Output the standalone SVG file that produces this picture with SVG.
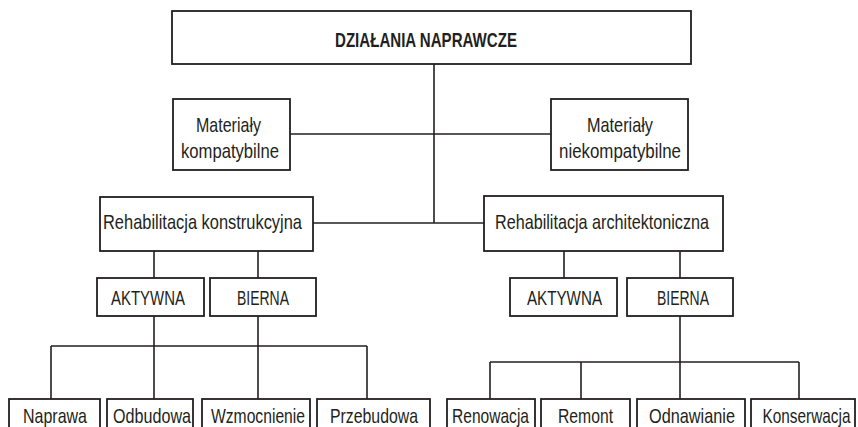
<svg xmlns="http://www.w3.org/2000/svg" width="858" height="427" viewBox="0 0 858 427">
<style>
rect{fill:#fff;stroke:#231f20;stroke-width:1.8}
text{font-family:"Liberation Sans Narrow","Liberation Sans",Arial,sans-serif;font-size:21px;fill:#231f20;text-anchor:middle}
.b{font-weight:bold;font-size:21px}
#connectors line{stroke:#231f20;stroke-width:1.6}
</style>
<rect x="0" y="0" width="858" height="427" style="fill:#fff;stroke:none"/>
<g id="connectors">
<line x1="434" y1="64" x2="434" y2="223"/>
<line x1="290" y1="134" x2="551" y2="134"/>
<line x1="313" y1="223" x2="484" y2="223"/>
<line x1="154" y1="251" x2="154" y2="278"/>
<line x1="258" y1="251" x2="258" y2="278"/>
<line x1="154" y1="316" x2="154" y2="399"/>
<line x1="258" y1="316" x2="258" y2="399"/>
<line x1="51" y1="346" x2="367" y2="346"/>
<line x1="51" y1="346" x2="51" y2="399"/>
<line x1="367" y1="346" x2="367" y2="399"/>
<line x1="564" y1="251" x2="564" y2="278"/>
<line x1="680" y1="251" x2="680" y2="278"/>
<line x1="680" y1="316" x2="680" y2="399"/>
<line x1="490" y1="362" x2="799" y2="362"/>
<line x1="490" y1="362" x2="490" y2="399"/>
<line x1="581" y1="362" x2="581" y2="399"/>
<line x1="799" y1="362" x2="799" y2="399"/>
</g>
<g id="n-root"><rect x="172" y="11" width="519" height="53"/><text class="b" x="426" y="47" textLength="182" lengthAdjust="spacingAndGlyphs">DZIAŁANIA NAPRAWCZE</text></g>
<g id="n-mk"><rect x="173" y="99" width="117" height="71"/><text x="228.5" y="132" textLength="65" lengthAdjust="spacingAndGlyphs">Materiały</text><text x="230" y="158" textLength="98" lengthAdjust="spacingAndGlyphs">kompatybilne</text></g>
<g id="n-mn"><rect x="551" y="99" width="137" height="71"/><text x="620" y="132" textLength="66" lengthAdjust="spacingAndGlyphs">Materiały</text><text x="620" y="158" textLength="122" lengthAdjust="spacingAndGlyphs">niekompatybilne</text></g>
<g id="n-rk"><rect x="100" y="197" width="213" height="54"/><text x="202.5" y="229" textLength="199" lengthAdjust="spacingAndGlyphs">Rehabilitacja konstrukcyjna</text></g>
<g id="n-ra"><rect x="484" y="196" width="239" height="55"/><text x="602" y="229" textLength="214" lengthAdjust="spacingAndGlyphs">Rehabilitacja architektoniczna</text></g>
<g id="n-ak1"><rect x="97" y="278" width="107" height="38"/><text x="148" y="305" textLength="74" lengthAdjust="spacingAndGlyphs">AKTYWNA</text></g>
<g id="n-bi1"><rect x="210" y="278" width="106" height="38"/><text x="263" y="305" textLength="52" lengthAdjust="spacingAndGlyphs">BIERNA</text></g>
<g id="n-ak2"><rect x="510" y="278" width="107" height="38"/><text x="564.5" y="305" textLength="75" lengthAdjust="spacingAndGlyphs">AKTYWNA</text></g>
<g id="n-bi2"><rect x="627" y="278" width="106" height="38"/><text x="683" y="305" textLength="52" lengthAdjust="spacingAndGlyphs">BIERNA</text></g>
<g id="n-naprawa"><rect x="9" y="399" width="91" height="40"/><text x="55" y="423" textLength="64" lengthAdjust="spacingAndGlyphs">Naprawa</text></g>
<g id="n-odbudowa"><rect x="107" y="399" width="86" height="40"/><text x="152" y="423" textLength="78" lengthAdjust="spacingAndGlyphs">Odbudowa</text></g>
<g id="n-wzmocnienie"><rect x="202" y="399" width="108" height="40"/><text x="258" y="423" textLength="94" lengthAdjust="spacingAndGlyphs">Wzmocnienie</text></g>
<g id="n-przebudowa"><rect x="317" y="399" width="113" height="40"/><text x="374" y="423" textLength="88" lengthAdjust="spacingAndGlyphs">Przebudowa</text></g>
<g id="n-renowacja"><rect x="447" y="399" width="88" height="40"/><text x="490.5" y="423" textLength="77" lengthAdjust="spacingAndGlyphs">Renowacja</text></g>
<g id="n-remont"><rect x="541" y="399" width="89" height="40"/><text x="585.5" y="423" textLength="55" lengthAdjust="spacingAndGlyphs">Remont</text></g>
<g id="n-odnawianie"><rect x="637" y="399" width="108" height="40"/><text x="692" y="423" textLength="86" lengthAdjust="spacingAndGlyphs">Odnawianie</text></g>
<g id="n-konserwacja"><rect x="751" y="399" width="104" height="40"/><text x="806.5" y="423" textLength="88" lengthAdjust="spacingAndGlyphs">Konserwacja</text></g>
</svg>
